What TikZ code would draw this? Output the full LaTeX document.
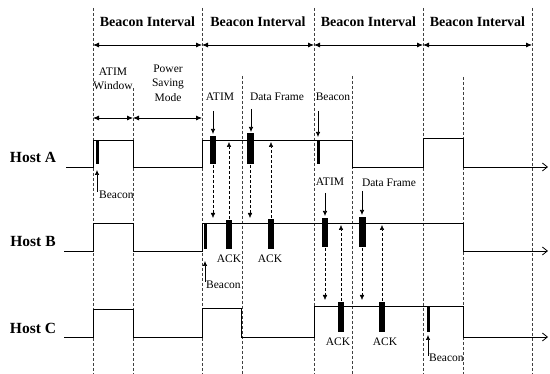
\documentclass[tikz,border=0pt]{standalone}
\usepackage{fontspec}
\setmainfont{Liberation Serif}
\usetikzlibrary{arrows.meta}

\begin{document}
\begin{tikzpicture}[x=1pt,y=-1pt,
  sig/.style={line width=0.8pt},
  sigend/.style={-{Straight Barb[length=5pt,width=8pt]}},
  grid/.style={densely dashed, line width=0.5pt, black!75},
  bar/.style={fill=black},
  span/.style={{Latex[length=6pt,width=5pt]}-{Latex[length=6pt,width=5pt]}, line width=0.8pt},
  ptr/.style={-{Latex[length=5pt,width=4.5pt]}, line width=0.7pt},
  msg/.style={-{Latex[length=5pt,width=4.5pt]}, densely dashed, line width=0.5pt},
  lbl/.style={font=\fontsize{11.5}{14.5}\selectfont, inner sep=0pt, align=center},
  ttl/.style={font=\fontsize{14}{16}\selectfont\bfseries, inner sep=0pt},
  host/.style={font=\fontsize{15.5}{18}\selectfont\bfseries, inner sep=0pt}]

\useasboundingbox (0,0) rectangle (550,374);

\foreach \x in {93,202,314,423,532} \draw[grid] (\x,8) -- (\x,374);
\foreach \x/\y in {133/88,242/76,352/76,463/77} \draw[grid] (\x,\y) -- (\x,374);

\foreach \a/\b [count=\i] in {93/202,202/314,314/423,423/532}{
  \draw[span] (\a,45) -- (\b,45);
  \node[ttl] (bi\i) at ({(\a+\b)/2},22) {Beacon Interval};
}
\draw[span] (93,118) -- (133,118);
\draw[span] (133,118) -- (202,118);
\node[lbl] (atimwin) at (113,79) {ATIM\\Window};
\node[lbl] (psm) at (168,83) {Power\\Saving\\Mode};

\node[host] (hostA) at (33,157) {Host A};
\node[host] (hostB) at (33,242) {Host B};
\node[host] (hostC) at (33,328) {Host C};

\draw[sig, sigend] (66,167) -- (93,167) -- (93,140) -- (133,140) -- (133,167) -- (202,167) -- (202,140) -- (352,140) -- (352,167) -- (423,167) -- (423,138) -- (463,138) -- (463,167) -- (548,167);
\draw[sig, sigend] (64,251) -- (93,251) -- (93,223) -- (133,223) -- (133,251) -- (202,251) -- (202,223) -- (463,223) -- (463,251) -- (548,251);
\draw[sig, sigend] (64,337) -- (93,337) -- (93,309) -- (133,309) -- (133,337) -- (202,337) -- (202,308) -- (241,308) -- (241,337) -- (314,337) -- (314,306) -- (463,306) -- (463,337) -- (548,337);

\fill[bar] (96,140) rectangle (99,164);
\fill[bar] (210,136) rectangle (216,164);
\fill[bar] (247,133) rectangle (254,164);
\fill[bar] (317,140) rectangle (320,164);
\fill[bar] (204,223) rectangle (207,249);
\fill[bar] (226,220) rectangle (232,249);
\fill[bar] (268,219) rectangle (274,249);
\fill[bar] (322,218) rectangle (328,247);
\fill[bar] (359,217) rectangle (366,247);
\fill[bar] (338,302) rectangle (344,332);
\fill[bar] (379,302) rectangle (385,332);
\fill[bar] (427,306) rectangle (430,332);

\node[lbl, anchor=west] (bcnA) at (99,195) {Beacon};
\draw[ptr] (97,192) -- (97,170);
\node[lbl] (atimA) at (220,97) {ATIM};
\draw[ptr] (213,111) -- (213,134);
\node[lbl] (dataA) at (277,97) {Data Frame};
\draw[ptr] (251,109) -- (251,132);
\node[lbl] (bcnA3) at (333,97) {Beacon};
\draw[ptr] (318,111) -- (318,137);

\node[lbl] (ackB1) at (229,259) {ACK};
\node[lbl] (ackB2) at (270,259) {ACK};
\node[lbl, anchor=west] (bcnB) at (206,285) {Beacon};
\draw[ptr] (205,282) -- (205,261);
\node[lbl] (atimB) at (330,182) {ATIM};
\draw[ptr] (325,193) -- (325,216);
\node[lbl] (dataB) at (389,183) {Data Frame};
\draw[ptr] (362,191) -- (362,215);

\node[lbl] (ackC1) at (338,342) {ACK};
\node[lbl] (ackC2) at (385,342) {ACK};
\node[lbl, anchor=west] (bcnC) at (429,358) {Beacon};
\draw[ptr] (428,356) -- (428,335);

\draw[msg] (213,165) -- (213,218);
\draw[msg] (229,219) -- (229,142);
\draw[msg] (250,165) -- (250,218);
\draw[msg] (271,218) -- (271,142);
\draw[msg] (325,248) -- (325,300);
\draw[msg] (341,301) -- (341,225);
\draw[msg] (362,248) -- (362,300);
\draw[msg] (382,301) -- (382,225);

\end{tikzpicture}
\end{document}
